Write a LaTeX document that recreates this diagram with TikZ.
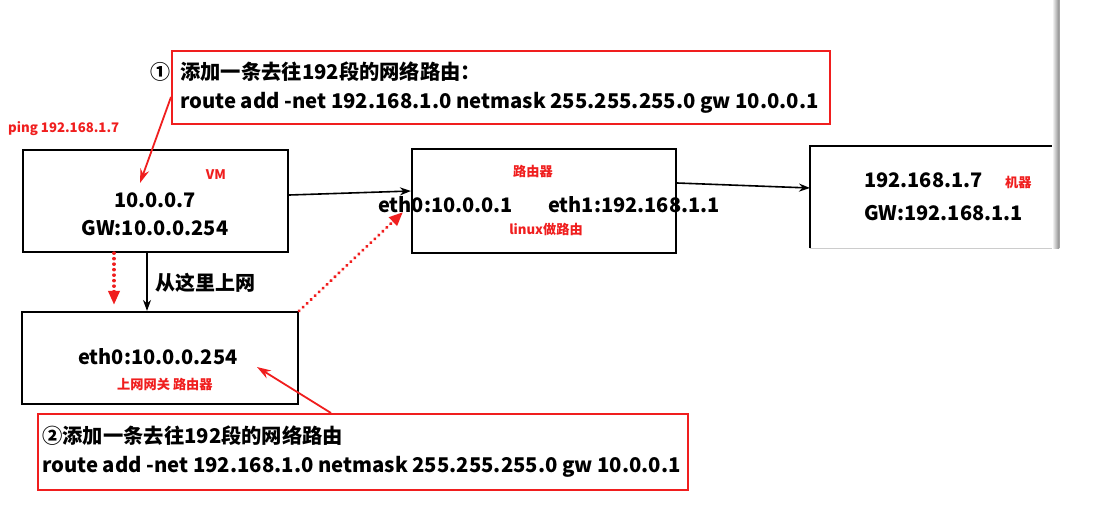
\documentclass[tikz,border=0pt]{standalone}
\usepackage{fontspec}
\setmainfont{Noto Sans CJK SC}
\usetikzlibrary{arrows.meta}
\definecolor{rd}{RGB}{240,30,30}
\tikzset{
  redbox/.style={draw=rd,line width=2pt},
  bigtxt/.style={font=\fontsize{20.3}{23}\selectfont\bfseries,inner sep=0pt,anchor=west},
  midtxt/.style={font=\fontsize{20}{23}\selectfont\bfseries,inner sep=0pt},
  redtxt/.style={font=\fontsize{13.2}{15}\selectfont\bfseries,text=rd,inner sep=0pt},
  blackarrow/.style={draw=black,line width=1.6pt,-{Stealth[length=11pt,width=8pt]}},
  redarrow/.style={draw=rd,line width=1.8pt,-{Stealth[length=14pt,width=9pt]}},
  reddots/.style={draw=rd,line width=3.5pt,dash pattern=on 0.1pt off 5.4pt,line cap=round,-{Triangle[length=14pt,width=11pt,line cap=butt]}},
}
\begin{document}
\begin{tikzpicture}[x=1pt,y=-1pt]
\useasboundingbox (0,0) rectangle (1099,504);
\fill[white] (0,0) rectangle (1099,504);
% boxes
\node[draw=black,line width=2.2pt,minimum width=265pt,minimum height=102pt,inner sep=0pt] (vm) at (155.5,201) {};
\node[draw=black,line width=2.2pt,minimum width=264pt,minimum height=104pt,inner sep=0pt] (rt) at (544,201) {};
\node[draw=black,line width=2.2pt,minimum width=276pt,minimum height=92pt,inner sep=0pt] (gw) at (160,358) {};
\node[redbox,minimum width=658pt,minimum height=73pt,inner sep=0pt] (r1) at (501,87.5) {};
\node[redbox,minimum width=650pt,minimum height=76pt,inner sep=0pt] (r2) at (363,452) {};
% machine box (cut off)
\coordinate (mtl) at (810,146);
\coordinate (mtr) at (1059,146);
\coordinate (mbl) at (810,248);
\coordinate (mbr) at (1059,248);
\draw[line width=2.2pt] (mbl) -- (mtl) -- (mtr);
\draw[line width=1pt,black!20] (mbl) -- (mbr);
\shade[left color=white,right color=black!45] (1052,0) rectangle (1059,248);
\draw[line width=1pt,black!35] (1059,0) -- (mbr);
% texts
\node[midtxt,anchor=east] (c1) at (171,72) {①};
\node[bigtxt] (t1) at (180,72) {添加一条去往192段的网络路由：};
\node[bigtxt] (t2) at (180,103) {route add -net 192.168.1.0 netmask 255.255.255.0 gw 10.0.0.1};
\node[redtxt,anchor=west] (ping) at (8,129) {ping 192.168.1.7};
\node[redtxt] (vml) at (216,175) {VM};
\node[midtxt] (ip1) at (155,200) {10.0.0.7};
\node[midtxt] (gw1) at (155,228) {GW:10.0.0.254};
\node[midtxt,anchor=west] (net) at (155,283) {从这里上网};
\node[redtxt] (rtl) at (533,171) {路由器};
\node[midtxt,anchor=west] (eth0) at (378,205) {eth0:10.0.0.1};
\node[midtxt,anchor=west] (eth1) at (548,205) {eth1:192.168.1.1};
\node[redtxt] (lnx) at (546,229) {linux做路由};
\node[midtxt,anchor=west] (ip3) at (864,180) {192.168.1.7};
\node[redtxt,anchor=west] (mach) at (1005,182) {机器};
\node[midtxt,anchor=west] (gw3) at (864,213) {GW:192.168.1.1};
\node[midtxt,anchor=west] (eth4) at (78,357) {eth0:10.0.0.254};
\node[redtxt,anchor=west] (gwl) at (117,384) {上网网关 路由器};
\node[bigtxt] (t3) at (42,436) {②添加一条去往192段的网络路由};
\node[bigtxt] (t4) at (42,467) {route add -net 192.168.1.0 netmask 255.255.255.0 gw 10.0.0.1};
% connectors
\draw[blackarrow] (vm.east |- 0,195) -- (rt.west |- 0,191);
\draw[blackarrow] (rt.east |- 0,183) -- (mtl |- 0,188);
\draw[blackarrow] (vm.south -| 147,0) -- (gw.north -| 147,0);
\draw[reddots] (vm.south -| 114,0) -- ([yshift=6pt]gw.north -| 114,0);
\coordinate (e0tip) at (403,212);
\draw[reddots] (gw.north east) -- (e0tip);
\coordinate (vmtip) at (140,183);
\draw[redarrow] (r1.west |- 0,97) -- (vmtip);
\coordinate (gwtip) at (257,367);
\draw[redarrow] (r2.north -| 331,0) -- (gwtip);
\end{tikzpicture}
\end{document}
